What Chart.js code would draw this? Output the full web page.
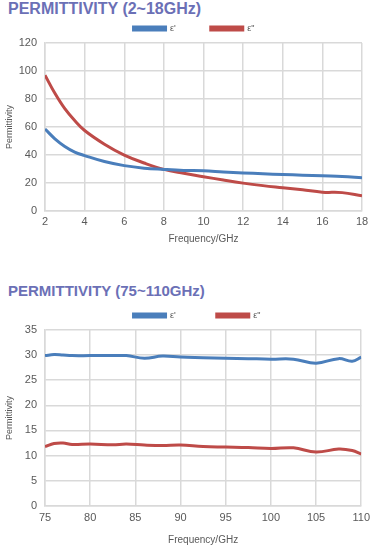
<!DOCTYPE html>
<html><head><meta charset="utf-8">
<script src="https://cdn.jsdelivr.net/npm/chart.js@4/dist/chart.umd.min.js"></script>
<style>
html,body{margin:0;padding:0;background:#fff;width:376px;height:552px;overflow:hidden;}
.t{position:absolute;left:8px;font:bold 15px "Liberation Sans",Arial,sans-serif;color:#6b70b6;white-space:nowrap;}
.c{position:absolute;left:0;width:376px;}
</style></head><body>
<div class="t" style="top:0px;font-size:16px">PERMITTIVITY (2~18GHz)</div>
<div class="c" style="top:18px;height:231px"><canvas id="c1"></canvas></div>
<div class="t" style="top:282px">PERMITTIVITY (75~110GHz)</div>
<div class="c" style="top:305px;height:245px"><canvas id="c2"></canvas></div>
<script>
const seriesNames = ["ε'", 'ε"'];
const freqA = [2,2.5,3,3.5,4,5,6,7,8,9,10,11,12,13,14,15,16,17,18];
const epsRealA = [58.5,51.5,46,42,39.5,35.2,32.3,30.5,29.6,28.9,28.6,27.8,27.1,26.5,25.9,25.5,25,24.6,23.6];
const epsImagA = [97,84,73,64.5,57.4,47.6,39.8,34.2,29.6,26.8,24.4,22,19.8,18,16.5,15,13.3,13,10.8];
const freqB = [75,76,77,78,80,82.5,84,86,88,90,92.5,95,97.5,100,102.5,105,107.5,109,110];
const epsRealB = [29.9,30.1,30.0,29.9,29.9,29.9,29.9,29.4,29.8,29.6,29.5,29.4,29.3,29.2,29.2,28.4,29.3,28.8,29.6];
const epsImagB = [11.8,12.4,12.5,12.2,12.3,12.15,12.3,12.1,12.0,12.1,11.8,11.7,11.6,11.4,11.55,10.7,11.3,11.0,10.3];

const BLUE = '#4a7ebb', RED = '#be4b48', GRID = '#d9d9d9', TXT = '#595959';
const FONT = '"Liberation Sans", Arial, sans-serif';

function pts(xs, ys){ return xs.map((x,i)=>({x:x,y:ys[i]})); }

// shifts the built-in legend horizontally and compensates the vertical offset caused by wide item padding
const legendShift = {
  id:'legendShift',
  afterLayout(chart, args, opts){
    const l = chart.legend; if(!l) return;
    l.left += opts.dx; l.right += opts.dx;
    l.top += opts.dy;
  }
};

function makeChart(id, xs, re, im, xr, yr, cfg){
  return new Chart(document.getElementById(id), {
    type:'line',
    plugins:[legendShift],
    data:{datasets:[
      {label:seriesNames[0], data:pts(xs,re), borderColor:BLUE, backgroundColor:BLUE, borderWidth:3, pointRadius:0, tension:0.4},
      {label:seriesNames[1], data:pts(xs,im), borderColor:RED, backgroundColor:RED, borderWidth:3, pointRadius:0, tension:0.4}
    ]},
    options:{
      responsive:true, maintainAspectRatio:false, animation:false,
      layout:{padding:{left:0,right:14,top:0,bottom:0}},
      plugins:{
        legend:{maxHeight:25,labels:{boxWidth:32,boxHeight:3,color:TXT,font:{family:FONT,size:9},padding:cfg.legPad}},
        legendShift:{dx:cfg.dx, dy:6-cfg.legPad},
        tooltip:{enabled:false}
      },
      scales:{
        x:{type:'linear',min:xr[0],max:xr[1],ticks:{stepSize:xr[2],color:TXT,font:{family:FONT,size:11},padding:cfg.tickPad},
           grid:{color:GRID,lineWidth:1.5,drawTicks:false},border:{color:GRID,width:1.5},
           title:{display:true,text:'Frequency/GHz',color:TXT,font:{family:FONT,size:10,lineHeight:cfg.titleLH},padding:{top:cfg.titlePad}}},
        y:{min:yr[0],max:yr[1],ticks:{stepSize:yr[2],color:TXT,font:{family:FONT,size:11},padding:8},
           grid:{color:GRID,lineWidth:1.5,drawTicks:false},border:{color:GRID,width:1.5},
           title:{display:true,text:'Permittivity',color:TXT,font:{family:FONT,size:9},padding:{bottom:4}},
           afterFit:s=>{s.width=45;}}
      }
    }
  });
}
makeChart('c1', freqA, epsRealA, epsImagA, [2,18,2], [0,120,20], {legPad:35, dx:13, tickPad:5, titlePad:0, titleLH:1.1});
makeChart('c2', freqB, epsRealB, epsImagB, [75,110,5], [0,35,5], {legPad:41, dx:16, tickPad:6, titlePad:3, titleLH:1.2});
</script>
</body></html>
